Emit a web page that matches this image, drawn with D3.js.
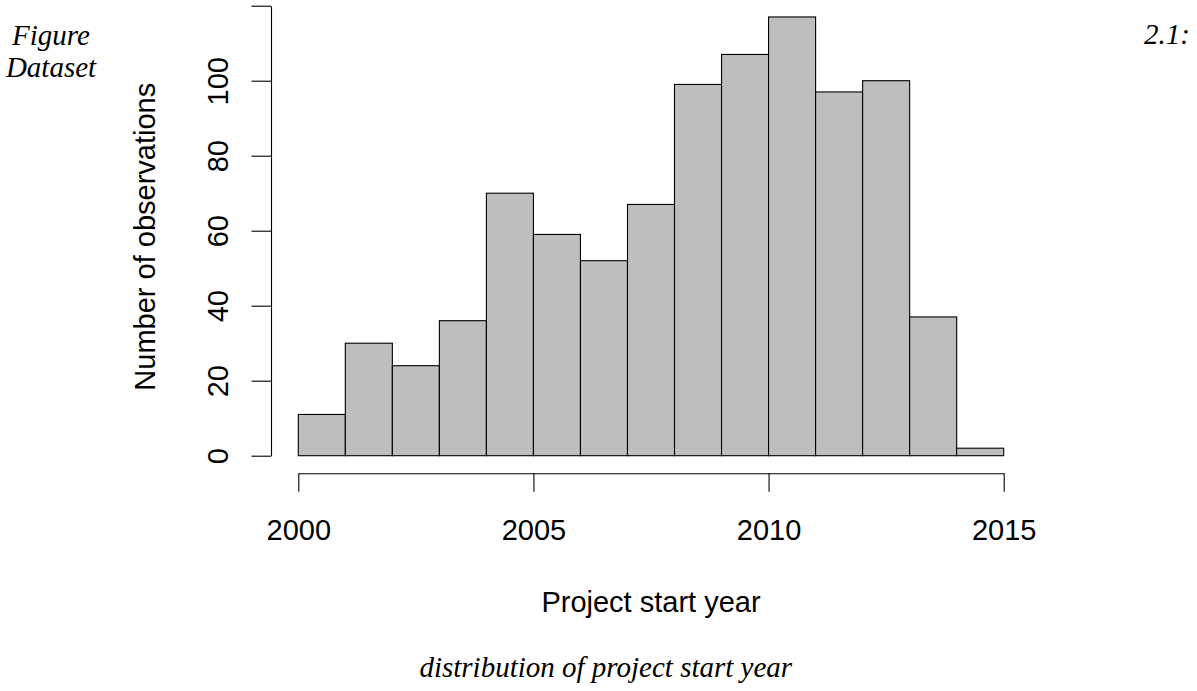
<!DOCTYPE html>
<html>
<head>
<meta charset="utf-8">
<script src="https://cdn.jsdelivr.net/npm/d3@7"></script>
<style>
  html, body { margin: 0; padding: 0; background: #fff; }
  svg { display: block; }
  .sans { font-family: "Liberation Sans", Arial, Helvetica, sans-serif; }
  .serif { font-family: "Liberation Serif", "Times New Roman", serif; font-style: italic; }
</style>
</head>
<body>
<svg id="chart" width="1197" height="691"></svg>
<script>
// ---- data ----
const binStarts = [2000,2001,2002,2003,2004,2005,2006,2007,2008,2009,2010,2011,2012,2013,2014];
const counts    = [11,30,24,36,70,59,52,67,99,107,117,97,100,37,2];
const xTicks = [2000, 2005, 2010, 2015];
const yTicks = [0, 20, 40, 60, 80, 100, 120];
const yTickLabels = ["0", "20", "40", "60", "80", "100", ""];
const xLabel = "Project start year";
const yLabel = "Number of observations";
const captionLeft = ["Figure", "Dataset"];
const captionRight = "2.1:";
const captionBottom = "distribution of project start year";

// ---- layout ----
const svg = d3.select("#chart");
const plotLeft = 298.3, plotRight = 1003.7;
const plotBottom = 455.7, plotTop = 5.7;

const x = d3.scaleLinear().domain([2000, 2015]).range([plotLeft, plotRight]);
const y = d3.scaleLinear().domain([0, 120]).range([plotBottom, plotTop]);

// bars
svg.append("g").selectAll("rect")
  .data(binStarts.map((s, i) => ({ s, e: s + 1, c: counts[i] })))
  .join("rect")
  .attr("x", d => x(d.s))
  .attr("y", d => y(d.c))
  .attr("width", d => x(d.e) - x(d.s))
  .attr("height", d => y(0) - y(d.c))
  .attr("fill", "#bebebe")
  .attr("stroke", "#000")
  .attr("stroke-width", 1.1);

// x axis
const xAxisG = svg.append("g")
  .attr("class", "sans")
  .attr("transform", "translate(0,473.3)")
  .call(d3.axisBottom(x).tickValues(xTicks).tickFormat(d3.format("d")).tickSize(18.5).tickSizeOuter(0).tickPadding(9));
xAxisG.select(".domain").attr("stroke", "#000").attr("stroke-width", 1.1);
xAxisG.selectAll(".tick line").attr("stroke", "#000").attr("stroke-width", 1.1);
xAxisG.selectAll(".tick text")
  .attr("font-size", 29).attr("fill", "#000")
  .attr("dy", 0).attr("y", 540 - 473.3);
xAxisG.attr("font-family", null).attr("font-size", null);

// y axis
const yAxisG = svg.append("g")
  .attr("class", "sans")
  .attr("transform", "translate(271,0)")
  .call(d3.axisLeft(y).tickValues(yTicks).tickFormat((d, i) => yTickLabels[i]).tickSize(19.5).tickSizeOuter(0));
yAxisG.select(".domain").attr("stroke", "#000").attr("stroke-width", 1.1);
yAxisG.selectAll(".tick line").attr("stroke", "#000").attr("stroke-width", 1.1);
yAxisG.selectAll(".tick text")
  .attr("font-size", 29).attr("fill", "#000")
  .attr("x", 0).attr("y", 0).attr("dy", 0)
  .attr("text-anchor", "middle")
  .attr("transform", "translate(-42.7,0) rotate(-90)");
yAxisG.attr("font-family", null).attr("font-size", null);

// axis titles
svg.append("text")
  .attr("class", "sans")
  .attr("x", (plotLeft + plotRight) / 2)
  .attr("y", 611.5)
  .attr("text-anchor", "middle")
  .attr("font-size", 29)
  .attr("fill", "#000")
  .text(xLabel);

svg.append("text")
  .attr("class", "sans")
  .attr("transform", "translate(155," + ((plotTop + plotBottom) / 2 + 6) + ") rotate(-90)")
  .attr("text-anchor", "middle")
  .attr("font-size", 29)
  .attr("fill", "#000")
  .text(yLabel);

// captions
svg.append("g").selectAll("text")
  .data(captionLeft)
  .join("text")
  .attr("class", "serif")
  .attr("x", 51)
  .attr("y", (d, i) => 45 + i * 32.3)
  .attr("text-anchor", "middle")
  .attr("font-size", 29)
  .attr("fill", "#000")
  .text(d => d);

svg.append("text")
  .attr("class", "serif")
  .attr("x", 1190)
  .attr("y", 44.3)
  .attr("text-anchor", "end")
  .attr("font-size", 29)
  .attr("fill", "#000")
  .text(captionRight);

svg.append("text")
  .attr("class", "serif")
  .attr("x", 605.8)
  .attr("y", 677.3)
  .attr("text-anchor", "middle")
  .attr("font-size", 29)
  .attr("fill", "#000")
  .text(captionBottom);
</script>
</body>
</html>
